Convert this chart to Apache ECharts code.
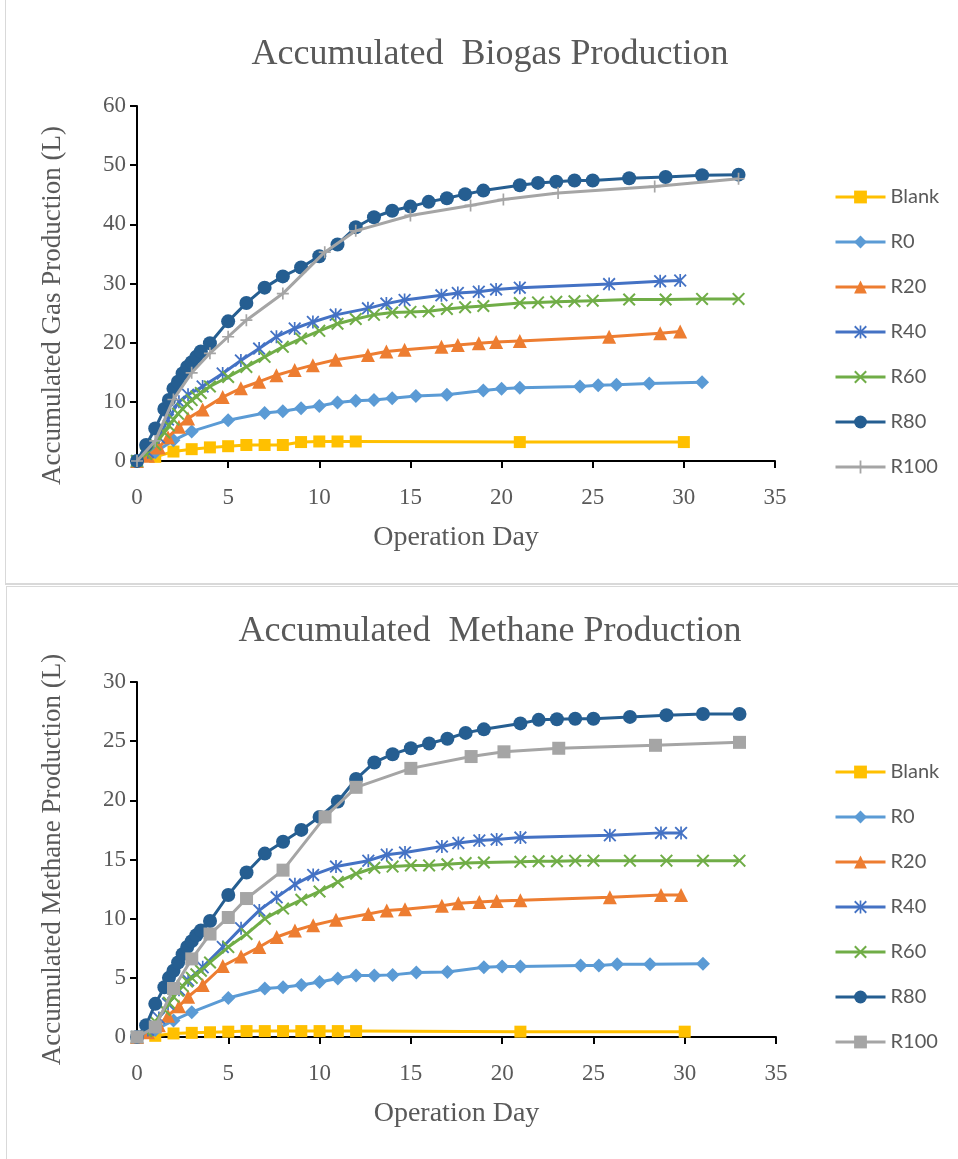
<!DOCTYPE html>
<html>
<head>
<meta charset="utf-8">
<script src="https://cdn.jsdelivr.net/npm/echarts@6/dist/echarts.min.js"></script>
<style>
  html, body { margin: 0; padding: 0; background: #fff; }
  body { width: 958px; height: 1159px; position: relative; overflow: hidden; }
  .box { position: absolute; border: 1px solid #d9d9d9; box-sizing: border-box; }
  .chart { position: absolute; left: 0; width: 958px; }
</style>
</head>
<body>
<div class="box" style="left:5px;top:-2px;width:960px;height:587px;border-bottom-width:2px"></div>
<div class="box" style="left:6px;top:586px;width:960px;height:580px"></div>
<div id="ChartGas" class="chart" style="top:0;height:584px"></div>
<div id="ChartMethane" class="chart" style="top:587px;height:572px"></div>
<script>
var CHART_RESIZE = [];

var NAMES = ['Blank', 'R0', 'R20', 'R40', 'R60', 'R80', 'R100'];
var COLORS = ['#ffc000', '#5b9bd5', '#ed7d31', '#4472c4', '#70ad47', '#255e91', '#a5a5a5'];

// sampling days (operation day)
var daysBlank = [0, 1, 2, 3, 4, 5, 6, 7, 8, 9, 10, 11, 12, 21, 30];
var daysR0 = [0, 1, 2, 3, 5, 7, 8, 9, 10, 11, 12, 13, 14, 15.3, 17, 19, 20, 21, 24.3, 25.3, 26.3, 28.1, 31];
var daysR20R40 = [0, 0.6, 1.2, 1.7, 2.3, 2.8, 3.6, 4.7, 5.7, 6.7, 7.65, 8.65, 9.65, 10.9, 12.67, 13.68, 14.68, 16.7, 17.6, 18.75, 19.7, 21, 25.9, 28.7, 29.8];
var daysR60R80 = [0, 0.5, 1, 1.5, 1.75, 2, 2.25, 2.5, 2.75, 3, 3.25, 3.5, 4, 5, 6, 7, 8, 9, 10, 11, 12, 13, 14, 15, 16, 17, 18, 19, 21, 22, 23, 24, 25, 27, 29, 31, 33];
var daysR100 = [0, 1, 2, 3, 4, 5, 6, 8, 10.3, 12, 15, 18.3, 20.1, 23.1, 28.4, 33];

// accumulated biogas (L)
var gasBlank = [0, 0.7, 1.6, 2.0, 2.3, 2.5, 2.7, 2.7, 2.7, 3.2, 3.3, 3.3, 3.3, 3.2, 3.2];
var gasR0 = [0, 1.5, 3.5, 5.0, 6.9, 8.1, 8.4, 8.9, 9.3, 9.9, 10.2, 10.3, 10.6, 11.0, 11.2, 11.9, 12.2, 12.4, 12.6, 12.8, 12.9, 13.1, 13.3];
var gasR20 = [0, 0.9, 2.3, 4.0, 5.8, 7.2, 8.7, 10.8, 12.3, 13.4, 14.5, 15.4, 16.2, 17.1, 17.9, 18.5, 18.8, 19.3, 19.6, 19.9, 20.1, 20.3, 21.0, 21.6, 21.9];
var gasR40 = [0, 1.5, 4.0, 7.0, 10.0, 11.2, 12.6, 14.8, 17.0, 19.0, 21.0, 22.4, 23.5, 24.7, 25.8, 26.6, 27.2, 28.0, 28.4, 28.6, 29.0, 29.3, 29.9, 30.4, 30.5];
var gasR60 = [0, 1.2, 2.8, 4.8, 6.0, 7.0, 8.0, 8.8, 9.6, 10.3, 10.9, 11.5, 12.6, 14.2, 15.9, 17.6, 19.3, 20.7, 22.0, 23.2, 24.0, 24.7, 25.1, 25.2, 25.3, 25.7, 26.0, 26.2, 26.7, 26.8, 26.9, 27.0, 27.1, 27.3, 27.3, 27.4, 27.4];
var gasR80 = [0, 2.7, 5.5, 8.8, 10.3, 12.2, 13.4, 14.8, 15.9, 16.7, 17.6, 18.5, 19.9, 23.6, 26.7, 29.3, 31.2, 32.7, 34.6, 36.6, 39.5, 41.2, 42.3, 43.0, 43.8, 44.4, 45.1, 45.7, 46.6, 47.0, 47.2, 47.4, 47.4, 47.8, 48.0, 48.3, 48.4];
var gasR100 = [0, 3.4, 10.4, 14.9, 18.2, 21.0, 23.8, 28.3, 35.3, 38.9, 41.5, 43.2, 44.2, 45.3, 46.4, 47.7];

// accumulated methane (L)
var ch4Blank = [0, 0.1, 0.3, 0.35, 0.4, 0.45, 0.5, 0.5, 0.5, 0.5, 0.5, 0.5, 0.5, 0.45, 0.45];
var ch4R0 = [0, 0.6, 1.4, 2.1, 3.3, 4.1, 4.2, 4.4, 4.65, 4.95, 5.2, 5.2, 5.25, 5.45, 5.5, 5.9, 5.95, 5.95, 6.05, 6.05, 6.15, 6.15, 6.2];
var ch4R20 = [0, 0.4, 1.0, 1.8, 2.6, 3.4, 4.4, 6.0, 6.8, 7.6, 8.45, 9.0, 9.45, 9.9, 10.4, 10.7, 10.8, 11.1, 11.3, 11.4, 11.5, 11.55, 11.8, 12.0, 12.0];
var ch4R40 = [0, 0.6, 1.6, 2.8, 4.0, 4.8, 5.9, 7.6, 9.2, 10.7, 11.8, 12.9, 13.7, 14.4, 14.9, 15.4, 15.6, 16.1, 16.4, 16.6, 16.7, 16.85, 17.05, 17.25, 17.25];
var ch4R60 = [0, 0.5, 1.3, 2.3, 2.9, 3.4, 3.9, 4.3, 4.7, 5.0, 5.3, 5.6, 6.3, 7.6, 8.7, 10.0, 10.85, 11.6, 12.3, 13.1, 13.8, 14.3, 14.4, 14.5, 14.5, 14.6, 14.7, 14.75, 14.8, 14.85, 14.85, 14.9, 14.9, 14.9, 14.9, 14.9, 14.9];
var ch4R80 = [0, 1.0, 2.8, 4.2, 5.0, 5.6, 6.3, 7.0, 7.6, 8.1, 8.6, 9.0, 9.8, 12.0, 13.9, 15.5, 16.5, 17.5, 18.6, 19.9, 21.8, 23.2, 23.9, 24.4, 24.8, 25.2, 25.7, 26.0, 26.5, 26.8, 26.85, 26.9, 26.9, 27.05, 27.2, 27.3, 27.3];
var ch4R100 = [0, 0.85, 4.1, 6.6, 8.7, 10.1, 11.7, 14.1, 18.6, 21.1, 22.7, 23.7, 24.1, 24.4, 24.65, 24.9];

var SYM_STAR = 'path://M0,1 L1,0 L5,4 L9,0 L10,1 L6,5 L10,9 L9,10 L5,6 L1,10 L0,9 L4,5 Z M4.35,0 L5.65,0 L5.65,10 L4.35,10 Z';
var SYM_X = 'path://M0,1.1 L1.1,0 L5,3.9 L8.9,0 L10,1.1 L6.1,5 L10,8.9 L8.9,10 L5,6.1 L1.1,10 L0,8.9 L3.9,5 Z';
var SYM_PLUS = 'path://M4.3,0 L5.7,0 L5.7,4.3 L10,4.3 L10,5.7 L5.7,5.7 L5.7,10 L4.3,10 L4.3,5.7 L0,5.7 L0,4.3 L4.3,4.3 Z';

function zip(x, y) {
  return x.map(function (v, i) {
    return [v, y[i]]
  })
}

function makeSeries(list, symbols) {
  return list.map(function (item, i) {
    return {
      name: NAMES[i],
      type: 'line',
      data: zip(item[0], item[1]),
      symbol: symbols[i][0],
      symbolSize: symbols[i][1],
      showSymbol: true,
      lineStyle: { width: 3, color: COLORS[i] },
      itemStyle: { color: COLORS[i] },
      z: 2 + i
    }
  })
}

function chartLine(obj, title, yName, yMax, yStep, layout, series) {
  var myChart = echarts.init(obj);
  var serif = 'Liberation Serif';
  var option = {
    animation: false,
    color: COLORS,
    title: {
      text: title,
      left: 485,
      top: layout.titleTop,
      textAlign: 'center',
      textStyle: { fontFamily: serif, fontSize: 36, fontWeight: 'normal', color: '#595959' }
    },
    legend: {
      orient: 'vertical',
      left: 829,
      top: layout.legendTop,
      itemWidth: 50,
      itemHeight: 16,
      itemGap: 25,
      data: NAMES,
      lineStyle: { width: 3 },
      textStyle: { fontFamily: 'Lato', fontSize: 20, color: '#595959' }
    },
    grid: layout.grid,
    xAxis: {
      type: 'value',
      min: 0,
      max: 35,
      interval: 5,
      name: 'Operation Day',
      nameLocation: 'middle',
      nameGap: 63,
      nameTextStyle: { fontFamily: serif, fontSize: 28, color: '#595959' },
      axisLine: { lineStyle: { color: '#000', width: 2 } },
      axisTick: { show: true, length: 7, lineStyle: { color: '#000', width: 2 } },
      axisLabel: { margin: 25, fontFamily: serif, fontSize: 23, color: '#595959' },
      splitLine: { show: false }
    },
    yAxis: {
      type: 'value',
      min: 0,
      max: yMax,
      interval: yStep,
      name: yName,
      nameLocation: 'middle',
      nameGap: 71,
      nameTextStyle: { fontFamily: serif, fontSize: 27, color: '#595959', padding: layout.yNamePad },
      axisLine: { show: true, lineStyle: { color: '#000', width: 2 } },
      axisTick: { show: true, length: 7, lineStyle: { color: '#000', width: 2 } },
      axisLabel: { margin: 11, fontFamily: serif, fontSize: 23, color: '#595959' },
      splitLine: { show: false }
    },
    series: series
  };
  myChart.setOption(option);
  CHART_RESIZE.push(function () {
    myChart.resize()
  })
}

chartLine(document.getElementById('ChartGas'),
  'Accumulated  Biogas Production',
  'Accumulated Gas Production (L)', 60, 10,
  { titleTop: 32, legendTop: 182, yNamePad: [0, 44, 0, 0], grid: { left: 137, top: 106, width: 638, height: 355 } },
  makeSeries([
    [daysBlank, gasBlank], [daysR0, gasR0], [daysR20R40, gasR20], [daysR20R40, gasR40],
    [daysR60R80, gasR60], [daysR60R80, gasR80], [daysR100, gasR100]
  ], [['rect', 12], ['diamond', 14], ['triangle', 14], [SYM_STAR, 13], [SYM_X, 13], ['circle', 14], [SYM_PLUS, 12]])
);

chartLine(document.getElementById('ChartMethane'),
  'Accumulated  Methane Production',
  'Accumulated Methane Production (L)', 30, 5,
  { titleTop: 22, legendTop: 170, yNamePad: 0, grid: { left: 137, top: 95, width: 639, height: 355 } },
  makeSeries([
    [daysBlank, ch4Blank], [daysR0, ch4R0], [daysR20R40, ch4R20], [daysR20R40, ch4R40],
    [daysR60R80, ch4R60], [daysR60R80, ch4R80], [daysR100, ch4R100]
  ], [['rect', 12], ['diamond', 14], ['triangle', 14], [SYM_STAR, 13], [SYM_X, 13], ['circle', 14], ['rect', 13]])
);

window.addEventListener('resize', function () {
  CHART_RESIZE.forEach(function (cb) {
    cb()
  })
});
</script>
</body>
</html>
